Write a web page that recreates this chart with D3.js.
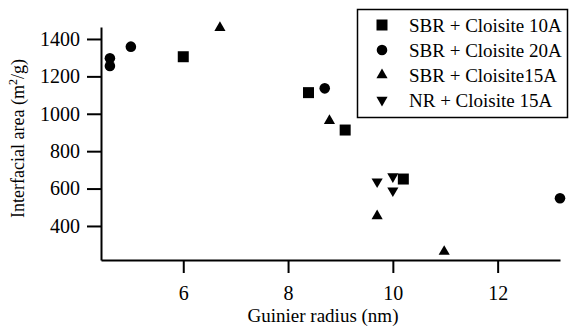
<!DOCTYPE html>
<html>
<head>
<meta charset="utf-8">
<script src="https://cdn.jsdelivr.net/npm/d3@7"></script>
<style>
  body { margin: 0; background: #fff; }
  svg text { font-family: 'Liberation Serif', 'Times New Roman', Times, serif; fill: #000; }
</style>
</head>
<body>
<div id="chart"></div>
<script>
const width = 569;
const height = 331;

// series: [Guinier radius (nm), interfacial area (m2/g)]
const sbr10A = [[6.0, 1305], [8.39, 1113], [9.09, 913], [10.2, 651]];
const sbr20A = [[4.6, 1297], [4.6, 1256], [5.0, 1359], [8.7, 1136], [13.19, 548]];
const sbr15A = [[6.7, 1460], [8.79, 963], [9.7, 453], [10.98, 263]];
const nr15A = [[9.7, 637], [10.0, 664], [10.0, 589]];

const seriesNames = ['SBR + Cloisite 10A', 'SBR + Cloisite 20A', 'SBR + Cloisite15A', 'NR + Cloisite 15A'];
const xTicks = [6, 8, 10, 12];
const yTicks = [400, 600, 800, 1000, 1200, 1400];

const margin = {left: 101, top: 27, right: 9, bottom: 71};
const serif = "'Liberation Serif', 'Times New Roman', Times, serif";

const x = d3.scaleLinear().domain([4.43, 13.19]).range([margin.left, width - margin.right]);
const y = d3.scaleLinear().domain([218, 1464]).range([height - margin.bottom, margin.top]);

const svg = d3.select('#chart').append('svg')
    .attr('width', width)
    .attr('height', height)
    .attr('font-family', serif);

// axes
let xAxis = svg.append('g')
    .attr('transform', 'translate(0,' + (height - margin.bottom) + ')')
    .call(d3.axisBottom(x).tickValues(xTicks).tickFormat(d3.format('d'))
        .tickSize(13).tickPadding(13).tickSizeOuter(0));

let yAxis = svg.append('g')
    .attr('transform', 'translate(' + margin.left + ',0)')
    .call(d3.axisLeft(y).tickValues(yTicks).tickFormat(d3.format('d'))
        .tickSize(14).tickPadding(7).tickSizeOuter(0));

[xAxis, yAxis].forEach(a => {
    a.attr('font-family', serif).attr('font-size', 20);
    a.selectAll('path.domain').attr('stroke', '#000').attr('stroke-width', 2);
    a.selectAll('.tick line').attr('stroke', '#000').attr('stroke-width', 2);
    a.selectAll('.tick text').attr('fill', '#000');
});

// axis titles
svg.append('text')
    .attr('x', 323)
    .attr('y', 322)
    .attr('text-anchor', 'middle')
    .attr('font-size', 19)
    .text('Guinier radius (nm)');

let yTitle = svg.append('text')
    .attr('transform', 'translate(24,138.5) rotate(-90)')
    .attr('text-anchor', 'middle')
    .attr('font-size', 18);
yTitle.append('tspan').text('Interfacial area (m');
yTitle.append('tspan').attr('dy', -7).attr('font-size', 12).text('2');
yTitle.append('tspan').attr('dy', 7).text('/g)');

// markers
const symbols = [
    {type: d3.symbolSquare, size: 121, rotate: 0},
    {type: d3.symbolCircle, size: 88, rotate: 0},
    {type: d3.symbolTriangle, size: 54, rotate: 0},
    {type: d3.symbolTriangle, size: 54, rotate: 180}
];
const allSeries = [sbr10A, sbr20A, sbr15A, nr15A];

allSeries.forEach((data, i) => {
    let s = symbols[i];
    svg.append('g').selectAll('path')
        .data(data)
        .enter().append('path')
        .attr('d', d3.symbol().type(s.type).size(s.size))
        .attr('transform', d => 'translate(' + x(d[0]) + ',' + y(d[1]) + ') rotate(' + s.rotate + ')')
        .attr('fill', '#000');
});

// legend
let legend = svg.append('g');
legend.append('rect')
    .attr('x', 357.5)
    .attr('y', 9.5)
    .attr('width', 210)
    .attr('height', 108)
    .attr('fill', '#fff')
    .attr('stroke', '#000')
    .attr('stroke-width', 1.5);

seriesNames.forEach((name, i) => {
    let s = symbols[i];
    let cy = 25 + i * 25;
    legend.append('path')
        .attr('d', d3.symbol().type(s.type).size(s.size))
        .attr('transform', 'translate(382,' + cy + ') rotate(' + s.rotate + ')')
        .attr('fill', '#000');
    legend.append('text')
        .attr('x', 409)
        .attr('y', cy + 6.5)
        .attr('font-size', 19)
        .text(name);
});
</script>
</body>
</html>
